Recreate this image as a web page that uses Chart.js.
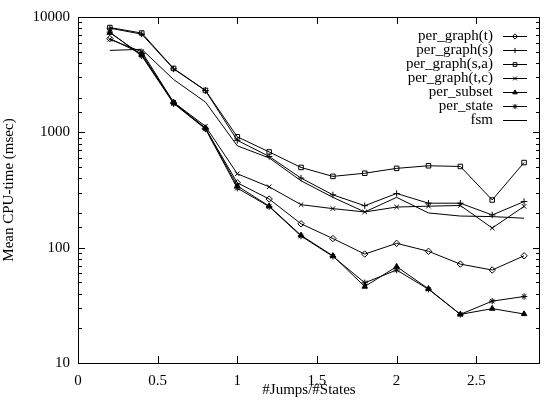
<!DOCTYPE html>
<html>
<head>
<meta charset="utf-8">
<script src="https://cdn.jsdelivr.net/npm/chart.js@4/dist/chart.umd.min.js"></script>
<style>
  html, body { margin: 0; padding: 0; background: #fff; }
  #wrap { width: 545px; height: 402px; }
</style>
</head>
<body>
<div id="wrap"><canvas id="cpu_chart"></canvas></div>
<script>
// jumps per state ratio, one point every 0.2
const jumpRatio = [0.2, 0.4, 0.6, 0.8, 1.0, 1.2, 1.4, 1.6, 1.8, 2.0, 2.2, 2.4, 2.6, 2.8];

// mean CPU time (msec)
const perGraphT  = [6500, 4800, 1800, 1080, 365, 264, 161, 120, 88, 109, 93, 72, 64, 85];
const perGraphS  = [8000, 7100, 3550, 2300, 852, 618, 401, 287, 231, 295, 243, 243, 192, 251];
const perGraphSA = [8100, 7260, 3580, 2310, 915, 676, 496, 415, 442, 487, 513, 506, 259, 547];
const perGraphTC = [6400, 5000, 1820, 1130, 437, 337, 236, 218, 204, 225, 229, 232, 148, 228];
const perSubset  = [7300, 4700, 1820, 1090, 343, 229, 128, 85, 46, 68.5, 44, 26.4, 29.6, 26.6];
const perState   = [7400, 4600, 1780, 1070, 328, 227, 126, 84, 49.6, 64, 43.6, 26.4, 34.4, 37.7];
const fsm        = [5130, 5250, 2870, 1830, 764, 600, 380, 273, 204, 273, 200, 188, 186, 180];

const xTicks = [0, 0.5, 1, 1.5, 2, 2.5];

const FONT = 'Liberation Serif';
Chart.defaults.font.family = FONT;
Chart.defaults.font.size = 15;
Chart.defaults.color = '#000';

function pts(values) {
    return values.map((v, i) => ({ x: jumpRatio[i], y: v }));
}

function series(label, values, style) {
    return {
        label: label,
        data: pts(values),
        borderColor: '#000',
        backgroundColor: 'rgba(0,0,0,0)',
        pointBorderColor: '#000',
        pointBackgroundColor: style === 'triangle' ? '#000' : 'rgba(0,0,0,0)',
        borderWidth: 1,
        pointBorderWidth: 1,
        pointStyle: style || false,
        pointRadius: style ? 3.2 : 0,
        tension: 0,
        fill: false
    };
}

// gnuplot style inward ticks + box
const gnuplotFrame = {
    id: 'gnuplotFrame',
    afterDatasetsDraw(chart) {
        const ctx = chart.ctx;
        const a = chart.chartArea;
        const xs = chart.scales.x, ys = chart.scales.y;
        ctx.save();
        ctx.strokeStyle = '#000';
        ctx.lineWidth = 1;
        ctx.beginPath();
        xs.ticks.forEach(t => {
            const px = Math.round(xs.getPixelForValue(t.value)) + 0.5;
            ctx.moveTo(px, a.bottom); ctx.lineTo(px, a.bottom - 7);
            ctx.moveTo(px, a.top); ctx.lineTo(px, a.top + 7);
        });
        ys.ticks.forEach(t => {
            const lg = Math.log10(t.value);
            const len = Math.abs(lg - Math.round(lg)) < 1e-6 ? 7 : 4;
            const py = Math.round(ys.getPixelForValue(t.value)) + 0.5;
            ctx.moveTo(a.left, py); ctx.lineTo(a.left + len, py);
            ctx.moveTo(a.right, py); ctx.lineTo(a.right - len, py);
        });
        ctx.stroke();
        ctx.strokeRect(Math.round(a.left) + 0.5, Math.round(a.top) + 0.5,
                       Math.round(a.right - a.left) - 1, Math.round(a.bottom - a.top));
        ctx.restore();
    },
    afterDraw(chart) {
        // key in the top right corner
        const ctx = chart.ctx;
        const a = chart.chartArea;
        ctx.save();
        ctx.font = '15px ' + FONT;
        ctx.textAlign = 'right';
        ctx.textBaseline = 'middle';
        ctx.fillStyle = '#000';
        ctx.strokeStyle = '#000';
        ctx.lineWidth = 1;
        chart.data.datasets.forEach((ds, i) => {
            const y = a.top + 19 + i * 14;
            ctx.fillText(ds.label, a.right - 47, y);
            ctx.beginPath();
            ctx.moveTo(a.right - 37, y + 0.5);
            ctx.lineTo(a.right - 13, y + 0.5);
            ctx.stroke();
            if (ds.pointStyle) {
                ctx.fillStyle = ds.pointBackgroundColor;
                Chart.helpers.drawPoint(ctx, {
                    pointStyle: ds.pointStyle, rotation: 0,
                    radius: 2.6, borderWidth: 1
                }, a.right - 25, y + 0.5);
                ctx.fillStyle = '#000';
            }
        });
        ctx.restore();
    }
};

new Chart(document.getElementById('cpu_chart'), {
    type: 'line',
    data: {
        datasets: [
            series('per_graph(t)', perGraphT, 'rectRot'),
            series('per_graph(s)', perGraphS, 'cross'),
            series('per_graph(s,a)', perGraphSA, 'rect'),
            series('per_graph(t,c)', perGraphTC, 'crossRot'),
            series('per_subset', perSubset, 'triangle'),
            series('per_state', perState, 'star'),
            series('fsm', fsm, null)
        ]
    },
    options: {
        responsive: true,
        maintainAspectRatio: false,
        animation: false,
        layout: { padding: { top: 5, right: 1, left: 0, bottom: 0 } },
        scales: {
            x: {
                type: 'linear',
                min: 0,
                max: 2.9,
                afterBuildTicks: s => { s.ticks = xTicks.map(v => ({ value: v })); },
                afterFit: s => { s.height = 39; },
                grid: { display: false, drawTicks: false },
                border: { display: false },
                ticks: { padding: 9, maxRotation: 0, callback: v => String(v) },
                title: { display: true, text: '#Jumps/#States', padding: { top: 0, bottom: 3 } }
            },
            y: {
                type: 'logarithmic',
                min: 10,
                max: 10000,
                afterFit: s => { s.width = 78; },
                grid: { display: false, drawTicks: false },
                border: { display: false },
                ticks: {
                    padding: 8,
                    autoSkip: false,
                    callback: v => {
                        const lg = Math.log10(v);
                        return Math.abs(lg - Math.round(lg)) < 1e-6 ? String(v) : '';
                    }
                },
                title: { display: true, text: 'Mean CPU-time (msec)', padding: { top: 0, bottom: 0 } }
            }
        },
        plugins: {
            legend: { display: false },
            tooltip: { enabled: false }
        }
    },
    plugins: [gnuplotFrame]
});
</script>
</body>
</html>
